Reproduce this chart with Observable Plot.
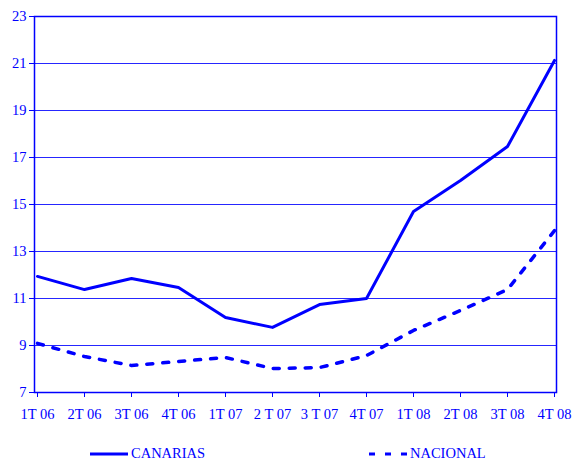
<!DOCTYPE html>
<html><head><meta charset="utf-8">
<script src="https://cdn.jsdelivr.net/npm/d3@7"></script>
<script src="https://cdn.jsdelivr.net/npm/@observablehq/plot@0.6"></script>
<style>
body{margin:0;background:#fff;font-family:"Liberation Serif","DejaVu Serif",serif;overflow:hidden;}
#legend{position:relative;height:29px;width:574px;color:#0000ff;font-size:14.5px;}
.item{position:absolute;top:15px;display:flex;align-items:center;line-height:13px;height:13px;}
.item svg{display:block;margin-right:3px;}
</style>
</head><body>
<div id="chart"></div>
<div id="legend"></div>
<script>
const categories = ["1T 06","2T 06","3T 06","4T 06","1T 07","2 T 07","3 T 07","4T 07","1T 08","2T 08","3T 08","4T 08"];
const canarias = [11.94,11.38,11.85,11.47,10.19,9.77,10.74,11.0,14.70,16.02,17.47,21.13];
const nacional = [9.09,8.53,8.15,8.32,8.49,8.02,8.06,8.57,9.64,10.49,11.38,13.89];
const yTicks = [7,9,11,13,15,17,19,21,23];
const seriesNames = ["CANARIAS","NACIONAL"];

const data = [];
categories.forEach((c,i)=>{
  data.push({q:c, v:canarias[i], s:seriesNames[0]});
  data.push({q:c, v:nacional[i], s:seriesNames[1]});
});
const blue = "#0000ff";
const chart = Plot.plot({
  width:574, height:432,
  marginLeft:34, marginRight:18, marginTop:16, marginBottom:40,
  style:{fontFamily:"'Liberation Serif','DejaVu Serif',serif", fontSize:"14.5px", color:blue, background:"#fff", display:"block"},
  x:{type:"point", domain:categories, padding:0, label:null},
  y:{domain:[7,23], ticks:yTicks, label:null},
  marks:[
    Plot.ruleY(yTicks,{stroke:blue, strokeWidth:1, strokeOpacity:0.85}),
    Plot.frame({stroke:blue, strokeWidth:1.5}),
    Plot.axisY({ticks:yTicks, tickSize:5, tickPadding:3, stroke:blue, fill:blue, fontSize:14.5, label:null, tickFormat:d=>String(d)}),
    Plot.axisX({tickSize:5, tickPadding:11, stroke:blue, fill:blue, fontSize:14.5, label:null}),
    Plot.line(data.filter(d=>d.s===seriesNames[0]),{x:"q", y:"v", stroke:blue, strokeWidth:3}),
    Plot.line(data.filter(d=>d.s===seriesNames[1]),{x:"q", y:"v", stroke:blue, strokeWidth:3.5, strokeDasharray:"6,10"})
  ]
});
document.getElementById("chart").appendChild(chart);

const legend = document.getElementById("legend");
const items = [
  {name:seriesNames[0], left:90, dash:null},
  {name:seriesNames[1], left:369, dash:"6,10"}
];
items.forEach(it=>{
  const d = document.createElement("div");
  d.className="item"; d.style.left=it.left+"px";
  d.innerHTML = `<svg width="38" height="6"><line x1="0" y1="3" x2="38" y2="3" stroke="${blue}" stroke-width="3" ${it.dash?`stroke-dasharray="${it.dash}"`:""}/></svg><span>${it.name}</span>`;
  legend.appendChild(d);
});
</script>
</body></html>
